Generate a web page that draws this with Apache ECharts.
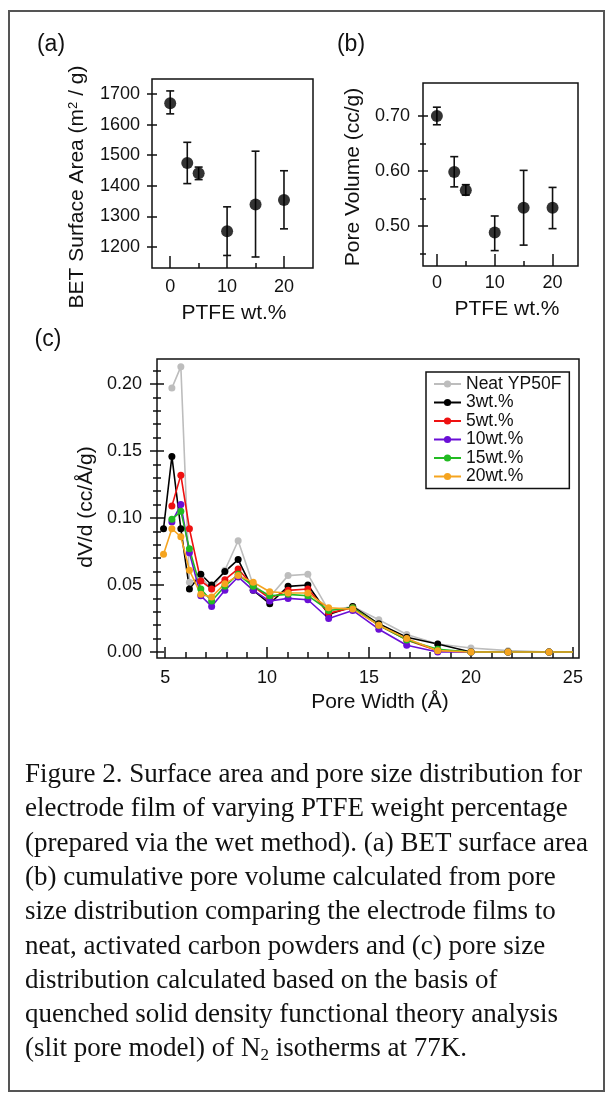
<!DOCTYPE html>
<html><head><meta charset="utf-8">
<script src="https://cdn.jsdelivr.net/npm/echarts@6/dist/echarts.min.js"></script>
<style>html,body{margin:0;padding:0;background:#fff}#c{width:613px;height:1101px}</style>
</head><body><div id="c"></div>
<script>
// ---------- data ----------
const ptfe = [0, 3, 5, 10, 15, 20];
const betArea = [1670, 1474, 1441, 1251, 1339, 1353];
const betLow  = [1635, 1407, 1420, 1172, 1167, 1259];
const betHigh = [1710, 1542, 1461, 1331, 1513, 1449];
const poreVol  = [0.700, 0.598, 0.565, 0.488, 0.533, 0.533];
const poreLow  = [0.684, 0.571, 0.556, 0.455, 0.465, 0.495];
const poreHigh = [0.716, 0.626, 0.575, 0.518, 0.601, 0.570];

const cWidth = [4.92, 5.33, 5.77, 6.19, 6.75, 7.28, 7.93, 8.58, 9.32, 10.13, 11.03, 12.0, 13.02, 14.2, 15.48, 16.85, 18.37, 20.0, 21.82, 23.83, 25.0];
const neat = [null, 0.197, 0.213, 0.052, 0.056, 0.047, 0.061, 0.083, 0.050, 0.041, 0.057, 0.058, 0.031, 0.034, 0.024, 0.013, 0.006, 0.003, 0.001, 0.000, 0.000];
const wt3  = [0.092, 0.146, 0.092, 0.047, 0.058, 0.050, 0.060, 0.069, 0.046, 0.036, 0.049, 0.050, 0.028, 0.034, 0.021, 0.011, 0.006, 0.000, 0.000, 0.000, 0.000];
const wt5  = [null, 0.109, 0.132, 0.092, 0.053, 0.047, 0.054, 0.062, 0.049, 0.040, 0.046, 0.047, 0.029, 0.033, 0.020, 0.009, 0.001, 0.000, 0.000, 0.000, 0.000];
const wt10 = [null, 0.097, 0.110, 0.074, 0.042, 0.034, 0.046, 0.056, 0.046, 0.038, 0.040, 0.039, 0.025, 0.031, 0.017, 0.005, 0.000, 0.000, 0.000, 0.000, 0.000];
const wt15 = [null, 0.099, 0.105, 0.077, 0.047, 0.038, 0.049, 0.058, 0.049, 0.042, 0.043, 0.042, 0.031, 0.033, 0.020, 0.009, 0.002, 0.000, 0.000, 0.000, 0.000];
const wt20 = [0.073, 0.092, 0.086, 0.061, 0.043, 0.041, 0.051, 0.057, 0.052, 0.045, 0.044, 0.044, 0.033, 0.032, 0.020, 0.010, 0.001, 0.000, 0.000, 0.000, 0.000];
const seriesNames = ['Neat YP50F', '3wt.%', '5wt.%', '10wt.%', '15wt.%', '20wt.%'];

// tick values
const aXMajor = [0, 10, 20], aXMinor = [5, 15];
const aYMajor = [1200, 1300, 1400, 1500, 1600, 1700];
const bXMajor = [0, 10, 20], bXMinor = [5, 15];
const bYMajor = [0.50, 0.60, 0.70], bYMinor = [0.45, 0.55, 0.65];
const cXMajor = [5, 10, 15, 20, 25];
const cXMinor = [6, 7, 8, 9, 11, 12, 13, 14, 16, 17, 18, 19, 21, 22, 23, 24];
const cYMajor = [0, 0.05, 0.10, 0.15, 0.20];
const cYMinor = [0.01, 0.02, 0.03, 0.04, 0.06, 0.07, 0.08, 0.09, 0.11, 0.12, 0.13, 0.14, 0.16, 0.17, 0.18, 0.19, 0.21];

const captionLines = [
  'Figure 2. Surface area and pore size distribution for',
  'electrode film of varying PTFE weight percentage',
  '(prepared via the wet method). (a) BET surface area',
  '(b) cumulative pore volume calculated from pore',
  'size distribution comparing the electrode films to',
  'neat, activated carbon powders and (c) pore size',
  'distribution calculated based on the basis of',
  'quenched solid density functional theory analysis',
  '(slit pore model) of N{sub|2} isotherms at 77K.'
];

// ---------- styles ----------
const FONT = '"Liberation Sans", Arial, Helvetica, sans-serif';
const SERIF = '"Liberation Serif", "Times New Roman", serif';
const INK = '#111';
const colors = ['#bdbdbd', '#000000', '#ee1111', '#6a0fd6', '#22bb22', '#f5a41f'];

function axis(o) {
  return {
    type: 'value', gridIndex: o.grid, position: o.pos, min: o.min, max: o.max,
    axisLine: {show: false, onZero: false},
    splitLine: {show: false}, splitArea: {show: false}, minorTick: {show: false},
    axisTick: {show: true, customValues: o.ticks, inside: !!o.inside, length: o.len,
      lineStyle: {color: INK, width: 1.5}},
    axisLabel: {show: !!o.labels, customValues: o.labels || [], margin: o.margin || 8,
      fontSize: 18, fontFamily: FONT, color: INK, formatter: o.fmt}
  };
}
const f2 = v => Number(v).toFixed(2);
const f0 = v => String(Math.round(v));

const xAxes = [
  axis({grid: 0, pos: 'bottom', min: -3.2, max: 25.1, ticks: aXMajor, inside: true, len: 12, labels: aXMajor, margin: 10, fmt: f0}),
  axis({grid: 0, pos: 'bottom', min: -3.2, max: 25.1, ticks: aXMinor, inside: true, len: 5}),
  axis({grid: 1, pos: 'bottom', min: -2.4, max: 24.4, ticks: bXMajor, inside: true, len: 12, labels: bXMajor, margin: 8, fmt: f0}),
  axis({grid: 1, pos: 'bottom', min: -2.4, max: 24.4, ticks: bXMinor, inside: true, len: 5}),
  axis({grid: 2, pos: 'bottom', min: 4.6, max: 25.3, ticks: cXMajor, inside: true, len: 11, labels: cXMajor, margin: 11, fmt: f0}),
  axis({grid: 2, pos: 'bottom', min: 4.6, max: 25.3, ticks: cXMinor, inside: true, len: 6})
];
const yAxes = [
  axis({grid: 0, pos: 'left', min: 1131, max: 1749, ticks: aYMajor, len: 5, labels: aYMajor, margin: 12, fmt: f0}),
  axis({grid: 0, pos: 'left', min: 1131, max: 1749, ticks: aYMajor, inside: true, len: 5}),
  axis({grid: 1, pos: 'left', min: 0.427, max: 0.76, ticks: bYMajor, len: 5, labels: bYMajor, margin: 13, fmt: f2}),
  axis({grid: 1, pos: 'left', min: 0.427, max: 0.76, ticks: bYMajor, inside: true, len: 5}),
  axis({grid: 1, pos: 'left', min: 0.427, max: 0.76, ticks: bYMinor, len: 3}),
  axis({grid: 1, pos: 'left', min: 0.427, max: 0.76, ticks: bYMinor, inside: true, len: 3}),
  axis({grid: 2, pos: 'left', min: -0.0045, max: 0.2187, ticks: cYMajor, len: 7, labels: cYMajor, margin: 15, fmt: f2}),
  axis({grid: 2, pos: 'left', min: -0.0045, max: 0.2187, ticks: cYMajor, inside: true, len: 7}),
  axis({grid: 2, pos: 'left', min: -0.0045, max: 0.2187, ticks: cYMinor, len: 4}),
  axis({grid: 2, pos: 'left', min: -0.0045, max: 0.2187, ticks: cYMinor, inside: true, len: 4})
];

function errRender(params, api) {
  const x = api.value(0), lo = api.value(1), hi = api.value(2);
  const a = api.coord([x, lo]), b = api.coord([x, hi]);
  const w = 4, st = {stroke: INK, lineWidth: 1.6};
  return {type: 'group', children: [
    {type: 'line', shape: {x1: a[0], y1: a[1], x2: b[0], y2: b[1]}, style: st},
    {type: 'line', shape: {x1: a[0] - w, y1: a[1], x2: a[0] + w, y2: a[1]}, style: st},
    {type: 'line', shape: {x1: b[0] - w, y1: b[1], x2: b[0] + w, y2: b[1]}, style: st}
  ]};
}

const series = [
  {type: 'custom', xAxisIndex: 0, yAxisIndex: 0, renderItem: errRender, z: 2,
   encode: {x: 0, y: [1, 2]}, data: ptfe.map((x, i) => [x, betLow[i], betHigh[i]])},
  {type: 'scatter', xAxisIndex: 0, yAxisIndex: 0, symbolSize: 12, z: 3,
   itemStyle: {color: '#000'}, data: ptfe.map((x, i) => [x, betArea[i]])},
  {type: 'custom', xAxisIndex: 2, yAxisIndex: 2, renderItem: errRender, z: 2,
   encode: {x: 0, y: [1, 2]}, data: ptfe.map((x, i) => [x, poreLow[i], poreHigh[i]])},
  {type: 'scatter', xAxisIndex: 2, yAxisIndex: 2, symbolSize: 12, z: 3,
   itemStyle: {color: '#000'}, data: ptfe.map((x, i) => [x, poreVol[i]])}
];
[neat, wt3, wt5, wt10, wt15, wt20].forEach((arr, k) => {
  const data = [];
  arr.forEach((v, i) => {
    if (v === null) return;
    if (i === cWidth.length - 1) data.push({value: [cWidth[i], v], symbol: 'none'});
    else data.push([cWidth[i], v]);
  });
  series.push({
    type: 'line', name: seriesNames[k], xAxisIndex: 4, yAxisIndex: 6, data,
    symbol: 'circle', symbolSize: 7, showSymbol: true,
    lineStyle: {color: colors[k], width: 1.6}, itemStyle: {color: colors[k]},
    emphasis: {disabled: true}, z: 3
  });
});

const graphic = [
  {type: 'rect', shape: {x: 9, y: 11, width: 595, height: 1080}, style: {fill: 'none', stroke: '#555', lineWidth: 2}, z: 0},
  {type: 'text', x: 51, y: 45, style: {text: '(a)', font: '23px ' + FONT, fill: INK, align: 'center', verticalAlign: 'middle'}},
  {type: 'text', x: 351, y: 45, style: {text: '(b)', font: '23px ' + FONT, fill: INK, align: 'center', verticalAlign: 'middle'}},
  {type: 'text', x: 48, y: 340, style: {text: '(c)', font: '23px ' + FONT, fill: INK, align: 'center', verticalAlign: 'middle'}},
  {type: 'text', x: 77, y: 187, rotation: Math.PI / 2,
   style: {text: 'BET Surface Area (m{sup|2} / g)', fontSize: 21, fontFamily: FONT, fill: INK, align: 'center', verticalAlign: 'middle',
     rich: {sup: {fontSize: 13, fontFamily: FONT, fill: INK, verticalAlign: 'top'}}}},
  {type: 'text', x: 234, y: 313, style: {text: 'PTFE wt.%', font: '21px ' + FONT, fill: INK, align: 'center', verticalAlign: 'middle'}},
  {type: 'text', x: 353, y: 177, rotation: Math.PI / 2,
   style: {text: 'Pore Volume (cc/g)', font: '21px ' + FONT, fill: INK, align: 'center', verticalAlign: 'middle'}},
  {type: 'text', x: 507, y: 309, style: {text: 'PTFE wt.%', font: '21px ' + FONT, fill: INK, align: 'center', verticalAlign: 'middle'}},
  {type: 'text', x: 86, y: 507, rotation: Math.PI / 2,
   style: {text: 'dV/d (cc/Å/g)', font: '21px ' + FONT, fill: INK, align: 'center', verticalAlign: 'middle'}},
  {type: 'text', x: 380, y: 702, style: {text: 'Pore Width (Å)', font: '21px ' + FONT, fill: INK, align: 'center', verticalAlign: 'middle'}}
];
captionLines.forEach((t, i) => {
  graphic.push({type: 'text', x: 25, y: 775 + i * 34.3,
    style: {text: t, fontSize: 27, fontFamily: SERIF, fill: INK, align: 'left', verticalAlign: 'middle', lineHeight: 30,
      rich: {sub: {fontSize: 17, fontFamily: SERIF, fill: INK, verticalAlign: 'bottom', lineHeight: 17}}}});
});

const option = {
  backgroundColor: '#fff',
  animation: false,
  grid: [
    {left: 152, top: 79, width: 161, height: 189, show: true, borderColor: INK, borderWidth: 1.5, backgroundColor: 'transparent', containLabel: false, outerBoundsMode: 'none'},
    {left: 423, top: 83, width: 155, height: 183, show: true, borderColor: INK, borderWidth: 1.5, backgroundColor: 'transparent', containLabel: false, outerBoundsMode: 'none'},
    {left: 157, top: 359, width: 422, height: 299, show: true, borderColor: INK, borderWidth: 1.5, backgroundColor: 'transparent', containLabel: false, outerBoundsMode: 'none'}
  ],
  xAxis: xAxes,
  yAxis: yAxes,
  legend: {
    data: seriesNames, orient: 'vertical', left: 426, top: 372,
    itemWidth: 27, itemHeight: 9, itemGap: 0.5, selectedMode: false,
    padding: [3, 8, 3, 7], borderColor: INK, borderWidth: 1.5, backgroundColor: '#fff',
    textStyle: {fontSize: 17.5, fontFamily: FONT, color: INK, lineHeight: 18}
  },
  series,
  graphic
};
const chart = echarts.init(document.getElementById('c'), null, {renderer: 'canvas'});
chart.setOption(option);
</script></body></html>
